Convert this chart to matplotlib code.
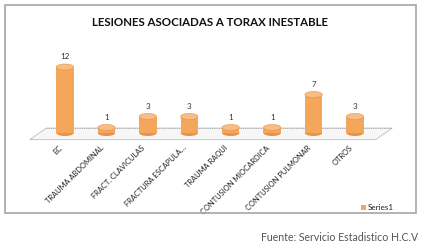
import numpy as np
import matplotlib
matplotlib.use('Agg')
import matplotlib.pyplot as plt
from matplotlib.patches import Ellipse, Rectangle, Polygon

# Datos del grafico
categorias = ["EC", "TRAUMA ABDOMINAL", "FRACT. CLAVICULAS", "FRACTURA ESCAPULA…",
              "TRAUMA RAQUI", "CONTUSION MIOCARDICA", "CONTUSION PULMONAR", "OTROS"]
valores = [12, 1, 3, 3, 1, 1, 7, 3]
serie = "Series1"

plt.rcParams['font.family'] = ['Lato', 'DejaVu Sans']

fig = plt.figure(figsize=(4.22, 2.45), dpi=100)
fig.patch.set_facecolor('white')

# Marco exterior
fig.patches.append(Rectangle((5/422, 1-213/245), 411/422, 208/245, transform=fig.transFigure,
                             fill=False, edgecolor='#a6a6a6', linewidth=1.2))

ax = fig.add_axes([36/422, 112/245, 348/422, 77/245])
ax.set_xlim(-0.7, 7.7)
ax.set_ylim(0, 14)
ax.axis('off')

# Piso en perspectiva
piso = Polygon([(-0.85, -1.2), (-0.45, 0.9), (7.9, 0.9), (7.5, -1.2)], closed=True,
               facecolor='#f7f7f7', edgecolor='#bfbfbf', linewidth=0.6, clip_on=False, zorder=1)
ax.add_patch(piso)
ax.plot([-0.45, 7.9], [0.9, 0.9], color='#999999', linewidth=0.6, linestyle=':', clip_on=False, zorder=1)

ancho = 0.42
ry = 0.55
for i, v in enumerate(valores):
    # cuerpo del cilindro
    ax.add_patch(Rectangle((i - ancho/2, 0), ancho, v, facecolor='#f4a65b',
                           edgecolor='none', zorder=3, clip_on=False))
    ax.add_patch(Ellipse((i, 0), ancho, 2*ry, facecolor='#e8924a', edgecolor='none',
                         zorder=2, clip_on=False))
    ax.add_patch(Ellipse((i, v), ancho, 2*ry, facecolor='#f8bd85', edgecolor='#e8924a',
                         linewidth=0.4, zorder=4, clip_on=False))
    ax.text(i, v + 1.2, str(v), ha='center', va='bottom', fontsize=5.8, color='#333333',
            zorder=5)
    ax.text(i - 0.15, -2.0, categorias[i], ha='right', va='top', rotation=45,
            rotation_mode='anchor', fontsize=5.4, color='#222222')

fig.text(210/422, 1-22/245, "LESIONES ASOCIADAS A TORAX INESTABLE", ha='center', va='center',
         fontsize=8.3, fontweight='bold', color='#111111')

# Leyenda
fig.patches.append(Rectangle((361/422, 1-210/245), 5/422, 5/245, transform=fig.transFigure,
                             facecolor='#f4a65b', edgecolor='none'))
fig.text(368/422, 1-207.5/245, serie, ha='left', va='center', fontsize=5.8, color='#222222')

fig.text(418/422, 1-237/245, "Fuente: Servicio Estadistico H.C.V", ha='right', va='center',
         fontsize=7.6, color='#555555')

fig.savefig('out.png', dpi=100)
